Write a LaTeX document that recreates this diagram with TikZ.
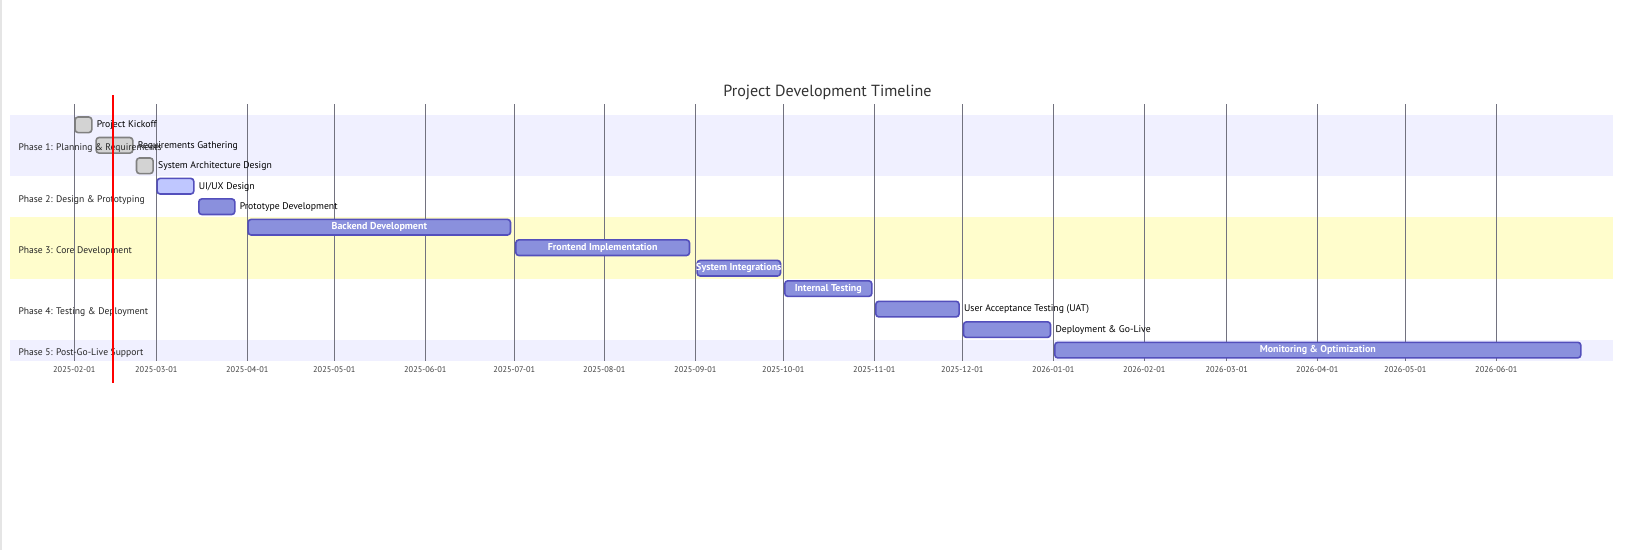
\documentclass[tikz,border=0pt]{standalone}
\usepackage{fontspec}
\setmainfont{PT Sans}
\definecolor{lav}{HTML}{F0F0FF}
\definecolor{yel}{HTML}{FFFDCC}
\definecolor{gridc}{HTML}{72727F}
\definecolor{taskfill}{HTML}{8A90DD}
\definecolor{taskline}{HTML}{534FBC}
\definecolor{actfill}{HTML}{BFC7FF}
\definecolor{donefill}{HTML}{D3D3D3}
\definecolor{doneline}{HTML}{808080}
\tikzset{
  barbase/.style={rounded corners=3pt, line width=1.6pt, minimum height=15.6pt, inner sep=0pt, anchor=west},
  donebar/.style={barbase, fill=donefill, draw=doneline},
  actbar/.style={barbase, fill=actfill, draw=taskline},
  taskbar/.style={barbase, fill=taskfill, draw=taskline, text=white, font=\fontsize{10}{12}\selectfont\bfseries},
  outlabel/.style={anchor=west, inner sep=0pt, font=\fontsize{9.7}{12}\selectfont},
  seclabel/.style={anchor=west, inner sep=0pt, font=\fontsize{9.6}{12}\selectfont, text=black!85},
  ticklabel/.style={inner sep=0pt, font=\fontsize{8.3}{10}\selectfont, text=black!75},
  gridline/.style={draw=gridc, line width=0.8pt},
  titlestyle/.style={inner sep=0pt, font=\fontsize{16.1}{19}\selectfont, text=black!80},
  todayline/.style={draw=red, line width=2pt}
}
\begin{document}
\begin{tikzpicture}[x=1pt,y=-1pt]
\useasboundingbox (0,0) rectangle (1640,550);
\fill[white] (0,0) rectangle (1640,550);
\fill[black!10] (0,0) rectangle (2,550);
% section bands
\fill[lav] (10,115) rectangle (1612.7,176.4);
\fill[yel] (10,217.4) rectangle (1612.7,278.8);
\fill[lav] (10,340.3) rectangle (1612.7,360.8);
% grid and ticks
\foreach \gx/\lab [count=\i] in {74.3/2025-02-01,156.3/2025-03-01,247.3/2025-04-01,334.3/2025-05-01,425.3/2025-06-01,514.3/2025-07-01,604.3/2025-08-01,695.3/2025-09-01,783.3/2025-10-01,874.3/2025-11-01,962.3/2025-12-01,1053.3/2026-01-01,1144.3/2026-02-01,1226.7/2026-03-01,1317.3/2026-04-01,1405.3/2026-05-01,1496.3/2026-06-01}{
  \coordinate (gt\i) at (\gx,104);
  \coordinate (gb\i) at (\gx,360.8);
  \draw[gridline] (gt\i) -- (gb\i);
  \node[ticklabel] (tick\i) at (\gx,370) {\lab};
}
% title
\node[titlestyle] (title) at (827.5,92.5) {Project Development Timeline};
% tasks
\node[donebar, minimum width=16.7pt] (t0) at (74.3,124.8) {};
\node[donebar, minimum width=36.7pt] (t1) at (95.3,145.3) {};
\node[donebar, minimum width=16.6pt] (t2) at (135.7,165.8) {};
\node[actbar, minimum width=36.7pt] (t3) at (156.3,186.2) {};
\node[taskbar, minimum width=36pt] (t4) at (198,206.7) {};
\node[taskbar, minimum width=262.4pt] (t5) at (247.3,227.2) {Backend Development};
\node[taskbar, minimum width=173.7pt] (t6) at (515,247.7) {Frontend Implementation};
\node[taskbar, minimum width=83.4pt] (t7) at (696.3,268.2) {};
\node[taskbar, minimum width=87pt] (t8) at (784,288.6) {Internal Testing};
\node[taskbar, minimum width=83.3pt] (t9) at (875,309.1) {};
\node[taskbar, minimum width=87pt] (t10) at (962.7,329.6) {};
\node[taskbar, minimum width=526pt] (t11) at (1054,350.1) {Monitoring \& Optimization};
\node[taskbar, draw=none, fill=none, anchor=center] (l7) at (t7.center) {System Integrations};
% outside labels
\node[outlabel] (l0) at ([xshift=4pt,yshift=-0.5pt]t0.east) {Project Kickoff};
\node[outlabel] (l1) at ([xshift=4pt,yshift=-0.5pt]t1.east) {Requirements Gathering};
\node[outlabel] (l2) at ([xshift=4pt,yshift=-0.5pt]t2.east) {System Architecture Design};
\node[outlabel] (l3) at ([xshift=4pt,yshift=-0.5pt]t3.east) {UI/UX Design};
\node[outlabel] (l4) at ([xshift=4pt,yshift=-0.5pt]t4.east) {Prototype Development};
\node[outlabel] (l9) at ([xshift=4pt,yshift=-0.5pt]t9.east) {User Acceptance Testing (UAT)};
\node[outlabel] (l10) at ([xshift=4pt,yshift=-0.5pt]t10.east) {Deployment \& Go-Live};
% section labels
\node[seclabel] (s1) at (18.3,148.5) {Phase 1: Planning \& Requirements};
\node[seclabel] (s2) at (18.3,200) {Phase 2: Design \& Prototyping};
\node[seclabel] (s3) at (18.3,251) {Phase 3: Core Development};
\node[seclabel] (s4) at (18.3,312) {Phase 4: Testing \& Deployment};
\node[seclabel] (s5) at (18.3,353) {Phase 5: Post-Go-Live Support};
% today marker
\coordinate (rt) at (113.3,95);
\coordinate (rb) at (113.3,383.3);
\draw[todayline] (rt) -- (rb);
\end{tikzpicture}
\end{document}
